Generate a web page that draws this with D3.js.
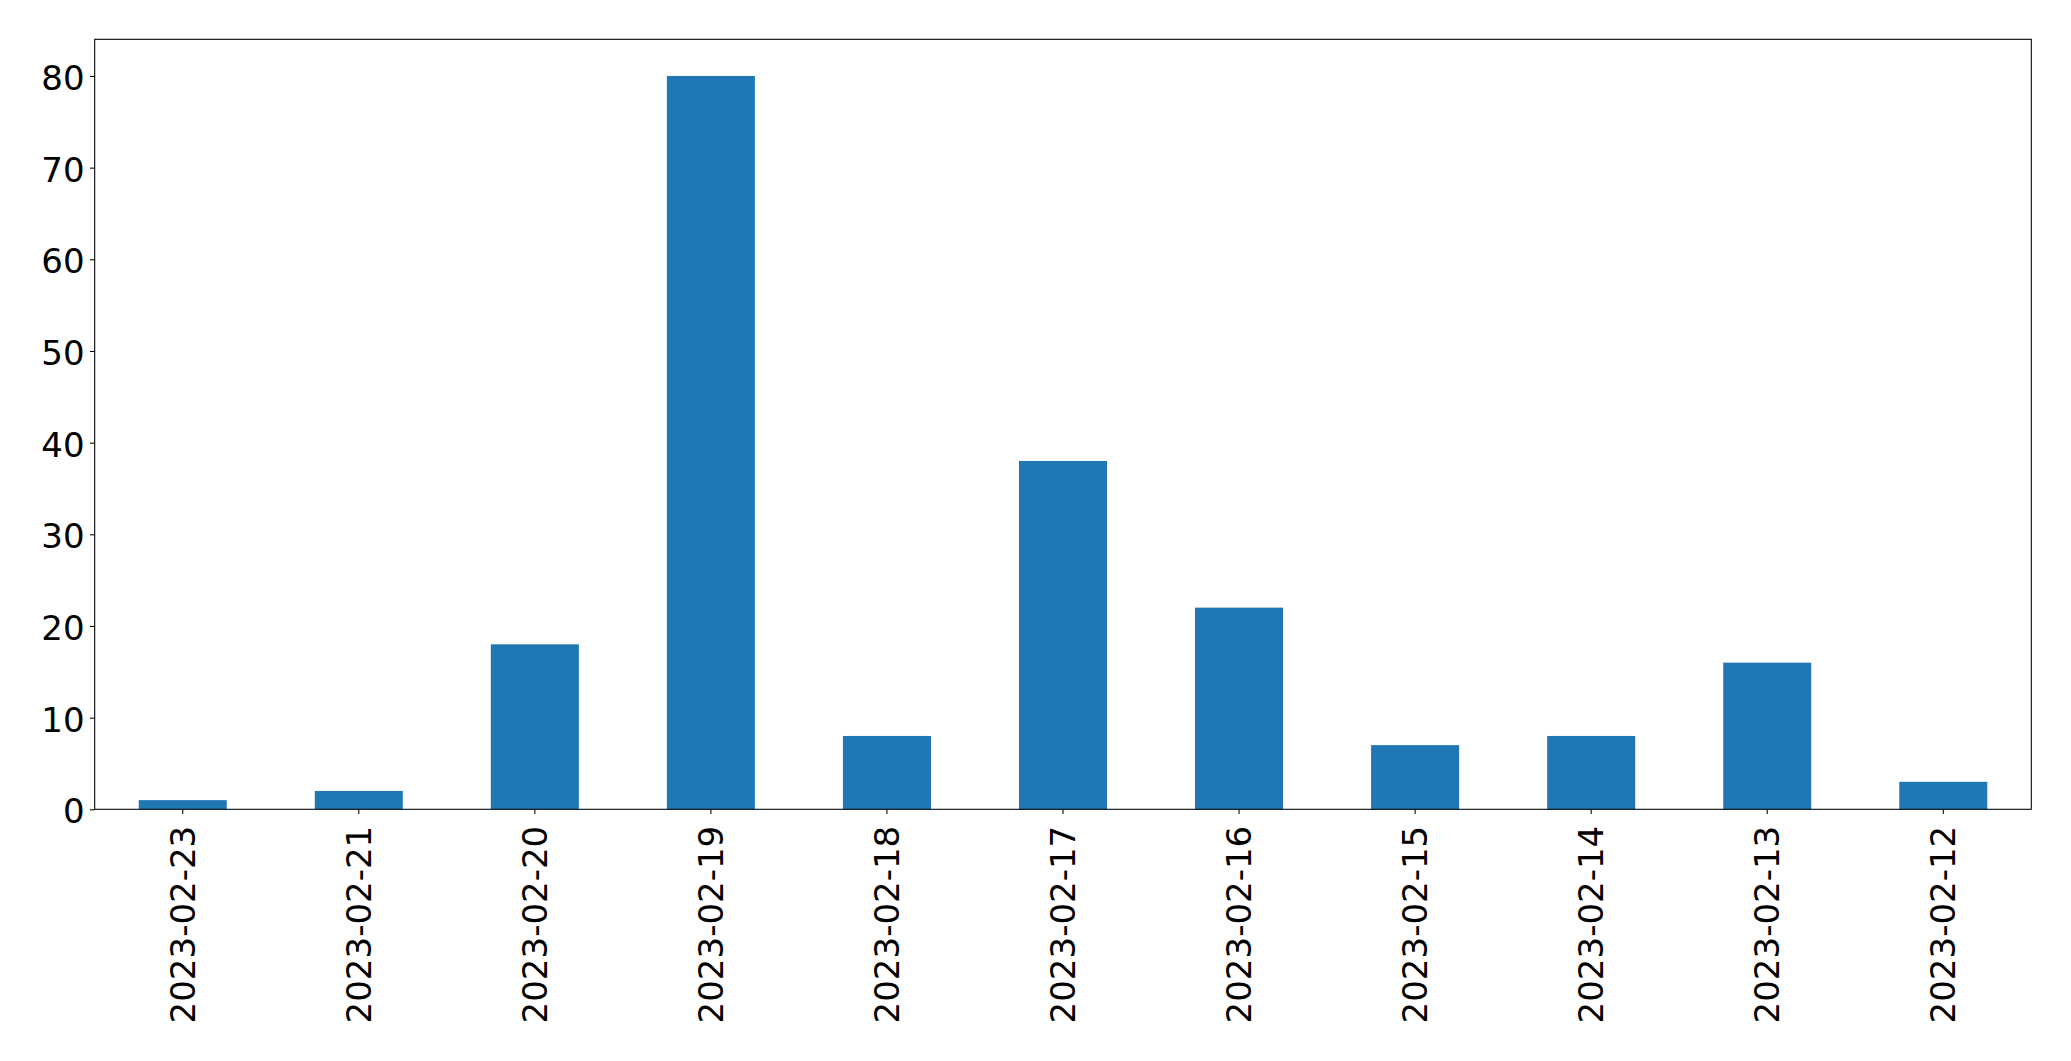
<!DOCTYPE html>
<html>
<head>
<meta charset="utf-8">
<script src="https://cdn.jsdelivr.net/npm/d3@7"></script>
<style>
  html, body { margin: 0; padding: 0; background: #fff; }
  svg { display: block; }
  text { font-family: "DejaVu Sans", sans-serif; fill: #000; }
</style>
</head>
<body>
<script>
const categories = ["2023-02-23","2023-02-21","2023-02-20","2023-02-19","2023-02-18","2023-02-17","2023-02-16","2023-02-15","2023-02-14","2023-02-13","2023-02-12"];
const values = [1, 2, 18, 80, 8, 38, 22, 7, 8, 16, 3];
const yTicks = [0, 10, 20, 30, 40, 50, 60, 70, 80];

const W = 2071, H = 1061;
const m = { left: 94.7, right: 2071 - 2031.3, top: 39.3, bottom: 1061 - 809.3 };
const fontSize = 34.0;
const tickLen = 4.67;

const svg = d3.select("body").append("svg").attr("width", W).attr("height", H);

const x = d3.scaleBand().domain(categories).range([m.left, W - m.right]).paddingInner(0.5).paddingOuter(0.25);
const y = d3.scaleLinear().domain([0, 84]).range([H - m.bottom, m.top]);

svg.append("g").selectAll("rect").data(values).join("rect")
  .attr("x", (d, i) => x(categories[i]))
  .attr("width", x.bandwidth())
  .attr("y", d => y(d))
  .attr("height", d => y(0) - y(d))
  .attr("fill", "#1f77b4");

// Y axis
const ya = svg.append("g").attr("transform", `translate(${m.left},0)`)
  .call(d3.axisLeft(y).tickValues(yTicks).tickSize(tickLen).tickPadding(10.1 - tickLen).tickFormat(d3.format("d")));
ya.select(".domain").remove();
ya.selectAll("line").attr("stroke", "#000").attr("stroke-width", 1.07);
ya.selectAll("text").attr("font-size", fontSize).attr("font-family", "DejaVu Sans, sans-serif").attr("fill", "#000")
  .attr("dy", null).attr("dominant-baseline", "central").attr("transform", "translate(0,1.5)");

// X axis
const xa = svg.append("g").attr("transform", `translate(0,${H - m.bottom})`)
  .call(d3.axisBottom(x).tickSize(tickLen).tickPadding(4));
xa.select(".domain").remove();
xa.selectAll("line").attr("stroke", "#000").attr("stroke-width", 1.07);
xa.selectAll("text")
  .attr("font-size", fontSize)
  .attr("font-family", "DejaVu Sans, sans-serif")
  .attr("fill", "#000")
  .attr("text-anchor", "end")
  .attr("dy", null)
  .attr("dominant-baseline", "central")
  .attr("y", 0)
  .attr("transform", `translate(0,16.5) rotate(-90)`);

// Frame
svg.append("rect")
  .attr("x", m.left).attr("y", m.top)
  .attr("width", W - m.left - m.right).attr("height", H - m.top - m.bottom)
  .attr("fill", "none").attr("stroke", "#000").attr("stroke-width", 1.07);
</script>
</body>
</html>
